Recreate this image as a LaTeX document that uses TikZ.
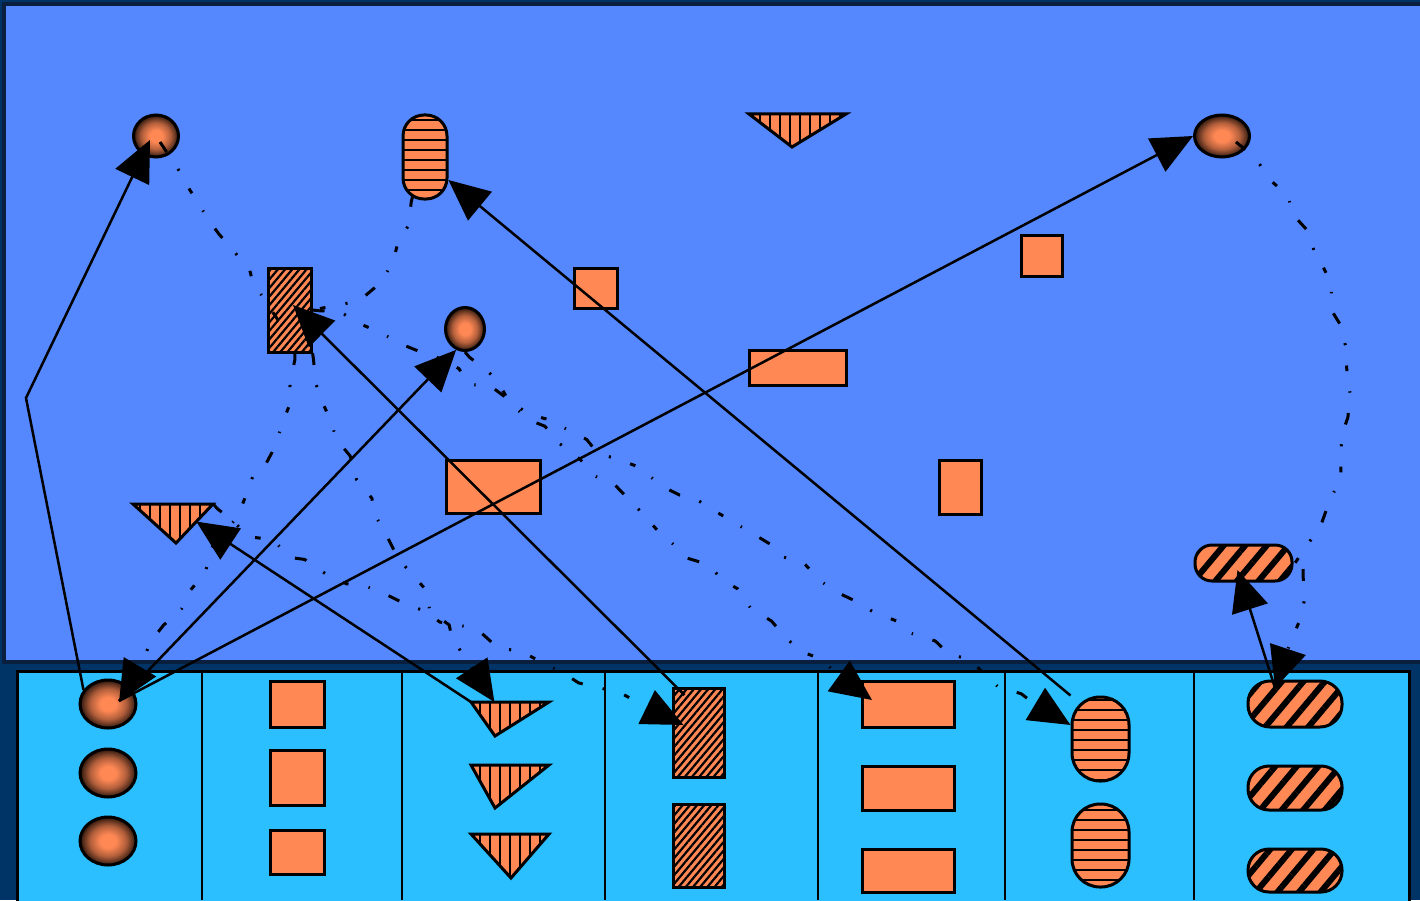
\documentclass[tikz,border=0pt]{standalone}
\usetikzlibrary{arrows.meta, calc, shapes.geometric, patterns.meta, decorations.pathmorphing}
\definecolor{navybg}{HTML}{003366}
\definecolor{skyblue}{HTML}{5588FF}
\definecolor{cyanlow}{HTML}{2BBFFF}
\definecolor{peach}{HTML}{FF8855}
\definecolor{ballrim}{HTML}{2B1206}
\definecolor{panelrim}{HTML}{0A1F3D}
\pgfdeclareradialshading{ballshade}{\pgfpoint{0bp}{0bp}}{%
  color(0bp)=(peach); color(7bp)=(peach); color(16bp)=(peach!70!black);
  color(22bp)=(peach!35!black); color(25bp)=(ballrim); color(50bp)=(ballrim)}

\begin{document}
\pgfmathsetseed{11}
\begin{tikzpicture}[
  x=0.1mm, y=-0.1mm,
  ball/.style 2 args={
    ellipse, draw=black, line width=0.3mm, shading=ballshade,
    minimum width=#1, minimum height=#2, inner sep=0pt
  },
  box/.style 2 args={
    draw=black, line width=0.3mm, fill=peach,
    minimum width=#1, minimum height=#2, inner sep=0pt
  },
  hatchbox/.style 2 args={
    draw=black, line width=0.3mm, preaction={fill=peach},
    pattern={Lines[angle=50, distance=0.55mm, line width=0.22mm]},
    minimum width=#1, minimum height=#2, inner sep=0pt
  },
  pill/.style 2 args={
    draw=black, line width=0.3mm, preaction={fill=peach},
    pattern={Lines[angle=0, distance=1mm, line width=0.28mm]},
    minimum width=#1, minimum height=#2, inner sep=0pt
  },
  band/.style 2 args={
    draw=black, line width=0.3mm, preaction={fill=peach},
    pattern={Lines[angle=50, distance=1.65mm, line width=0.6mm]},
    minimum width=#1, minimum height=#2, inner sep=0pt
  },
  tri/.style={
    draw=black, line width=0.3mm, preaction={fill=peach},
    pattern={Lines[angle=90, distance=1mm, line width=0.28mm]}
  },
  arr/.style={line width=0.25mm, -{Triangle[length=4.1mm, width=3.7mm]}},
  dline/.style={
    line width=0.3mm, decorate,
    decoration={random steps, segment length=6pt, amplitude=1.4pt,
      pre length=2pt, post length=13pt},
    dash pattern=on 3.4pt off 5.8pt on 0.6pt off 5.8pt on 1.6pt off 5.8pt on 0.4pt off 5.8pt
  },
  darr/.style={dline, -{Triangle[length=4.1mm, width=3.7mm]}},
]

% Background and panels
\useasboundingbox (0,0) rectangle (1420,900);
\fill[navybg] (0,0) rectangle (1420,900);
\draw[panelrim, line width=0.35mm, fill=skyblue] (4,4) rectangle (1440,662);
\draw[black, line width=0.3mm, fill=cyanlow] (17,671) rectangle (1409,920);
\draw[line width=0.25mm] (202,671) -- (202,900);
\draw[line width=0.25mm] (402,671) -- (402,900);
\draw[line width=0.25mm] (605,671) -- (605,900);
\draw[line width=0.25mm] (818,671) -- (818,900);
\draw[line width=0.25mm] (1005,671) -- (1005,900);
\draw[line width=0.25mm] (1194,671) -- (1194,900);

% Upper panel shapes
\node[ball={4.5mm}{4.2mm}] (ballA) at (156,136) {};
\node[pill={4.4mm}{8.4mm}, rounded corners=2.1mm] (capU) at (425,157) {};
\draw[tri] (749,114) coordinate (triT-a) -- (846,114) coordinate (triT-b)
  -- (792,147) coordinate (triT-c) -- cycle;
\node[ball={5.5mm}{4.2mm}] (ballB) at (1222,136) {};
\node[hatchbox={4.3mm}{8.4mm}] (hatchU) at (290,310) {};
\node[box={4.3mm}{4mm}] (sqA) at (595.5,288) {};
\node[box={4.1mm}{4.1mm}] (sqB) at (1042,256) {};
\node[ball={3.9mm}{4.3mm}] (ballC) at (465,329) {};
\node[box={9.7mm}{3.5mm}] (recA) at (798,368) {};
\node[box={9.4mm}{5.3mm}] (recB) at (493,487) {};
\node[box={4.2mm}{5.4mm}] (recC) at (960,487) {};
\draw[tri] (133,504) coordinate (triL-a) -- (213,504) coordinate (triL-b)
  -- (176,543) coordinate (triL-c) -- cycle;
\node[band={9.7mm}{3.6mm}, rounded corners=1.7mm] (capH) at (1243.5,563) {};

% Lower panel shapes
\node[ball={5.6mm}{4.8mm}] (ball1) at (108,704) {};
\node[ball={5.6mm}{4.8mm}] (ball2) at (108,773) {};
\node[ball={5.6mm}{4.8mm}] (ball3) at (108,841) {};
\node[box={5.4mm}{4.6mm}] (sq1) at (297,704) {};
\node[box={5.4mm}{5.5mm}] (sq2) at (297,777.5) {};
\node[box={5.4mm}{4.4mm}] (sq3) at (297,852) {};
\draw[tri] (471,702) coordinate (tri1-a) -- (549,702) coordinate (tri1-b)
  -- (495,736) coordinate (tri1-c) -- cycle;
\draw[tri] (471,765) coordinate (tri2-a) -- (549,765) coordinate (tri2-b)
  -- (495,808) coordinate (tri2-c) -- cycle;
\draw[tri] (471,834) coordinate (tri3-a) -- (549,834) coordinate (tri3-b)
  -- (511,878) coordinate (tri3-c) -- cycle;
\node[hatchbox={5.1mm}{8.9mm}] (hb1) at (698.5,733) {};
\node[hatchbox={5.1mm}{8.3mm}] (hb2) at (698.5,845.5) {};
\node[box={9.2mm}{4.6mm}] (rc1) at (908,704) {};
\node[box={9.2mm}{4.4mm}] (rc2) at (908,788) {};
\node[box={9.2mm}{4.3mm}] (rc3) at (908,870.5) {};
\node[pill={5.7mm}{8.4mm}, rounded corners=2.8mm] (cp1) at (1100.5,739) {};
\node[pill={5.7mm}{8.3mm}, rounded corners=2.8mm] (cp2) at (1100.5,845.5) {};
\node[band={9.4mm}{4.6mm}, rounded corners=2.2mm] (hc1) at (1295,704) {};
\node[band={9.4mm}{4.4mm}, rounded corners=2.1mm] (hc2) at (1295,788) {};
\node[band={9.4mm}{4.3mm}, rounded corners=2.1mm] (hc3) at (1295,870.5) {};

% Solid arrows
\coordinate (bend) at (26,398);
\draw[arr] (ball1.150) -- (bend) -- ([shift={(-6,4)}]ballA.center);
\draw[arr] ([shift={(11,-3)}]ball1.center) -- (ballC.247);
\draw[arr] ([shift={(11,-3)}]ball1.center) -- (ballB.west);
\draw[arr] ([shift={(-14,-38)}]hb1.center) -- ([shift={(3,-5)}]hatchU.center);
\draw[arr] (tri1-a) -- ($(triL-b)!0.45!(triL-c)$);
\draw[arr] (cp1.north west) -- ([shift={(0,23)}]capU.east);
\draw[arr] ([shift={(-20,-16)}]hc1.center) -- ([shift={(-6,7)}]capH.center);

% Dashed links
\draw[dline] ([shift={(4,6)}]ballA.center) -- ([shift={(-12,10)}]hatchU.center);
\draw[dline] ([shift={(-12,38)}]capU.center) .. controls +(-15,60) and +(60,0) .. (hatchU.east);
\draw[dline] ([shift={(14,6)}]ballB.center) .. controls +(100,80) and +(100,-130) .. (capH.east);
\draw[darr] ([shift={(8,6)}]capH.east) .. controls +(2,40) and +(10,-40) .. ([shift={(-20,-16)}]hc1.center);
\draw[darr] ([shift={(5,0)}]hatchU.south) .. controls +(0,100) and +(50,-90) .. ([shift={(11,-2)}]ball1.center);
\draw[darr] (hatchU.south east) .. controls +(10,90) and +(-40,-60) .. ($(tri1-a)!0.3!(tri1-b)$);
\draw[darr] (triL-b) .. controls +(40,50) and +(-60,-35) .. ([shift={(-15,-8)}]hb1.center);
\draw[darr] (hatchU.east) .. controls +(60,0) and +(-250,-150) .. ([shift={(0,-14)}]cp1.west);
\draw[darr] (ballC.south) .. controls +(40,50) and +(-60,-38) .. ([shift={(-36,-4)}]rc1.center);

\end{tikzpicture}
\end{document}
